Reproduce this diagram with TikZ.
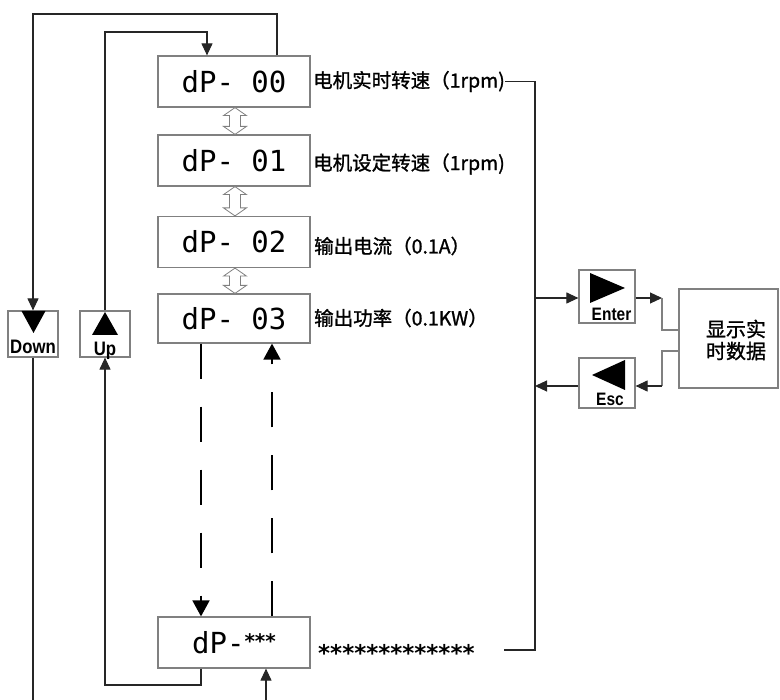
\documentclass[tikz,border=0pt]{standalone}
\usepackage{fontspec}
\usetikzlibrary{arrows.meta,calc}
\newfontfamily\cjk[FakeBold=1.2]{Noto Sans CJK SC}
\newfontfamily\led{DejaVu Sans Mono}
\newfontfamily\lab[FakeStretch=0.86]{Liberation Sans}
\newfontfamily\dvs{DejaVu Sans}
\newcommand{\hollowarr}[2]{%
 \draw[hollow] let \p1=(#1.south), \p2=(#2.north) in
  (\x1+1pt,\y1) -- (\x1+12.5pt,\y1-8pt) -- (\x1+6.5pt,\y1-8pt) -- (\x1+6.5pt,\y2+8pt) -- (\x1+12.5pt,\y2+8pt) -- (\x1+1pt,\y2) -- (\x1-10.5pt,\y2+8pt) -- (\x1-4.5pt,\y2+8pt) -- (\x1-4.5pt,\y1-8pt) -- (\x1-10.5pt,\y1-8pt) -- cycle;}
\begin{document}
\begin{tikzpicture}[x=1pt,y=-1pt,
  box/.style={draw=gray, line width=1.2pt, minimum width=152pt, minimum height=51pt, inner sep=0pt, font=\led\fontsize{29}{29}\selectfont},
  kbox/.style={draw=gray, line width=1.2pt, inner sep=0pt},
  lbl/.style={inner sep=0pt, font=\cjk\fontsize{19.5}{19.5}\selectfont},
  keytxt/.style={inner sep=0pt, font=\lab\bfseries\fontsize{19.5}{19.5}\selectfont},
  keytxt2/.style={inner sep=0pt, font=\lab\bfseries\fontsize{18}{18}\selectfont},
  conn/.style={draw=black!85, line width=1.1pt},
  gconn/.style={draw=gray, line width=1.1pt},
  arr/.style={-{Triangle[length=12pt,width=11pt]}},
  bigarr/.style={-{Triangle[length=16pt,width=17pt]}},
  dashconn/.style={draw=black, line width=1.8pt, dash pattern=on 35pt off 28pt},
  hollow/.style={draw=gray, fill=white, line width=0.8pt}]
\useasboundingbox (0,0) rectangle (780,700);

% display boxes
\node[box] (b0) at (234,81.5) {dP- 00};
\node[box] (b1) at (234,160.5) {dP- 01};
\node[box] (b2) at (234,242) {dP- 02};
\node[box, minimum height=49pt] (b3) at (234,318.5) {dP- 03};
\node[box] (bs) at (234,642.5) {dP-{\dvs\bfseries\fontsize{20}{20}\selectfont\raisebox{5pt}{***}}};

% labels
\node[lbl, anchor=west] (l0) at (313,81.5) {电机实时转速（1rpm)};
\node[lbl, anchor=west] (l1) at (313,164) {电机设定转速（1rpm)};
\node[lbl, anchor=west] (l2) at (314,246) {输出电流（0.1A）};
\node[lbl, anchor=west] (l3) at (314,318) {输出功率（0.1KW）};
\node[inner sep=0pt, anchor=base west, font=\dvs\bfseries\fontsize{23}{23}\selectfont] (ls) at (318,661) {*************};

% hollow double arrows
\hollowarr{b0}{b1}
\hollowarr{b1}{b2}
\hollowarr{b2}{b3}

% key boxes
\node[kbox, minimum width=50pt, minimum height=46pt] (down) at (33,334) {};
\node[kbox, minimum width=50pt, minimum height=46pt] (up) at (105,334) {};
\node[kbox, minimum width=56pt, minimum height=53pt] (enter) at (607,296.5) {};
\node[kbox, minimum width=56pt, minimum height=50pt] (esc) at (607,383) {};
\node[kbox, minimum width=99pt, minimum height=99pt] (disp) at (728.5,338.5) {};

\fill (21.5,311) -- (45.5,311) -- (33.5,333) -- cycle;
\node[keytxt, anchor=base] (downtxt) at (33,354) {Down};
\fill (105,312) -- (118,335) -- (92,335) -- cycle;
\node[keytxt, anchor=base] (uptxt) at (105,355.5) {Up};
\fill (590,273) -- (625,288) -- (590,303) -- cycle;
\node[keytxt2, anchor=base] (entertxt) at (611.5,320.5) {Enter};
\fill (592,375) -- (625,360) -- (625,390) -- cycle;
\node[keytxt2, anchor=base] (esctxt) at (610,405.5) {Esc};
\node[inner sep=0pt, align=center, font=\cjk\fontsize{20}{22}\selectfont] (disptxt) at (736,340) {显示实\\时数据};

% coordinates
\coordinate (cTopR) at (277,14);
\coordinate (cTopL) at (33,14);
\coordinate (cUpTop) at (105,32);
\coordinate (cUpR) at (207,32);
\coordinate (cBL) at (201,685);
\coordinate (cBU) at (105,685);
\coordinate (cDownEnd) at (33,700);
\coordinate (cBotIn) at (266,700);
\coordinate (dx1) at (201,0);
\coordinate (dx2) at (272,0);
\coordinate (rTop) at (535,81.5);
\coordinate (rBot) at (535,650);
\coordinate (sEnd) at (504,650);
\coordinate (eIn) at (535,298);
\coordinate (eOut) at (662,298);
\coordinate (dIn) at (662,330);
\coordinate (dOut) at (662,351);
\coordinate (escIn) at (662,386);
\coordinate (escOut) at (535,386);

% loops
\draw[conn,arr] (b0.north -| cTopR) -- (cTopR) -- (cTopL) -- (down.north);
\draw[conn,arr] (up.north) -- (cUpTop) -- (cUpR) -- (b0.north -| cUpR);
\draw[conn,arr] (bs.south -| cBL) -- (cBL) -- (cBU) -- (up.south);
\draw[conn] (down.south) -- (cDownEnd);
\draw[conn,arr] (cBotIn) -- (bs.south -| cBotIn);

% dashed
\draw[dashconn,bigarr] (b3.south -| dx1) -- (bs.north -| dx1);
\draw[dashconn,bigarr] (bs.north -| dx2) -- (b3.south -| dx2);

% right bus
\draw[conn] (l0.east) -- (rTop) -- (rBot) -- (sEnd);
\draw[conn,arr] (eIn) -- (enter.west |- eIn);
\draw[conn,arr] (enter.east |- eOut) -- (eOut);
\draw[gconn] (eOut) -- (dIn) -- (disp.west |- dIn);
\draw[gconn] (disp.west |- dOut) -- (dOut) -- (escIn);
\draw[conn,arr] (escIn) -- (esc.east |- escIn);
\draw[conn,arr] (esc.west |- escOut) -- (escOut);
\end{tikzpicture}
\end{document}
